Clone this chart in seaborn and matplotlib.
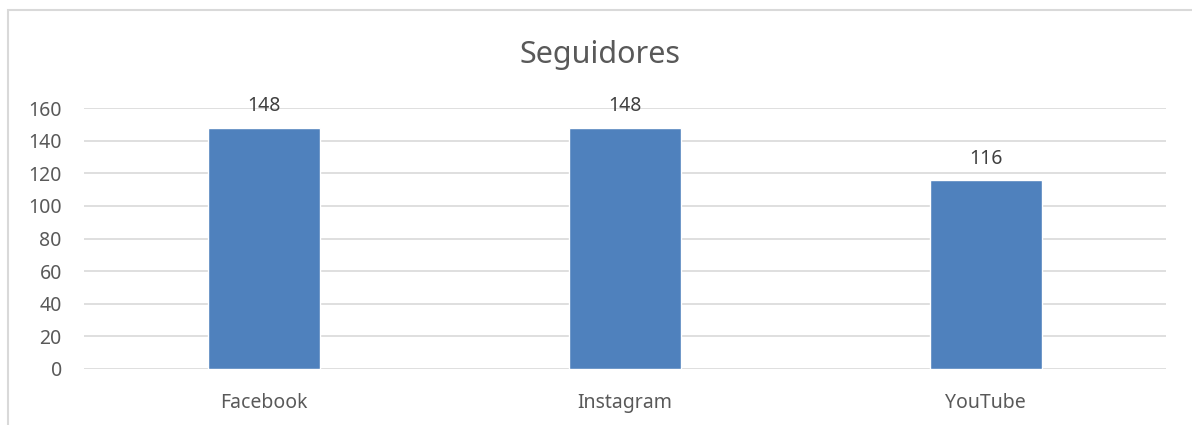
import matplotlib
matplotlib.use("Agg")
import matplotlib.pyplot as plt
import matplotlib.patches as patches
import seaborn as sns
import pandas as pd

categorias = ["Facebook", "Instagram", "YouTube"]
seguidores = [148, 148, 116]
yticks = [0, 20, 40, 60, 80, 100, 120, 140, 160]

sns.set_style("white")
plt.rcParams['font.family'] = ['Noto Sans', 'DejaVu Sans']

texto = '#595959'
grid = '#D9D9D9'

df = pd.DataFrame({'Red': categorias, 'Seguidores': seguidores})

fig = plt.figure(figsize=(11.92, 4.25), dpi=100)
ax = fig.add_axes([84 / 1192, 1 - 369 / 425, (1166 - 84) / 1192, (369 - 108) / 425])

sns.barplot(data=df, x='Red', y='Seguidores', color='#4F81BD', width=0.31,
            saturation=1, ax=ax, zorder=3)

ax.set_ylim(0, 160)
ax.set_xlim(-0.5, 2.5)
ax.set_yticks(yticks)
ax.yaxis.grid(True, color=grid, linewidth=1.2, zorder=0)
ax.set_axisbelow(True)
for s in ax.spines.values():
    s.set_visible(False)
ax.tick_params(axis='both', length=0, labelsize=14, labelcolor=texto)
ax.tick_params(axis='y', pad=16)
ax.tick_params(axis='x', pad=17)
ax.set_xlabel('')
ax.set_ylabel('')

for i, v in enumerate(seguidores):
    ax.annotate(str(v), (i, v), xytext=(0, 8), textcoords='offset points',
                ha='center', va='bottom', fontsize=14, color='#404040')

fig.text(600 / 1192, 1 - 55 / 425, 'Seguidores', ha='center', va='center',
         fontsize=22, color=texto)

fig.patches.append(patches.Rectangle((8 / 1192, -0.1), 1.2, (425 - 10) / 425 + 0.1,
                                     transform=fig.transFigure, fill=False,
                                     edgecolor=grid, linewidth=1.5))

fig.savefig('out.png', dpi=100)
